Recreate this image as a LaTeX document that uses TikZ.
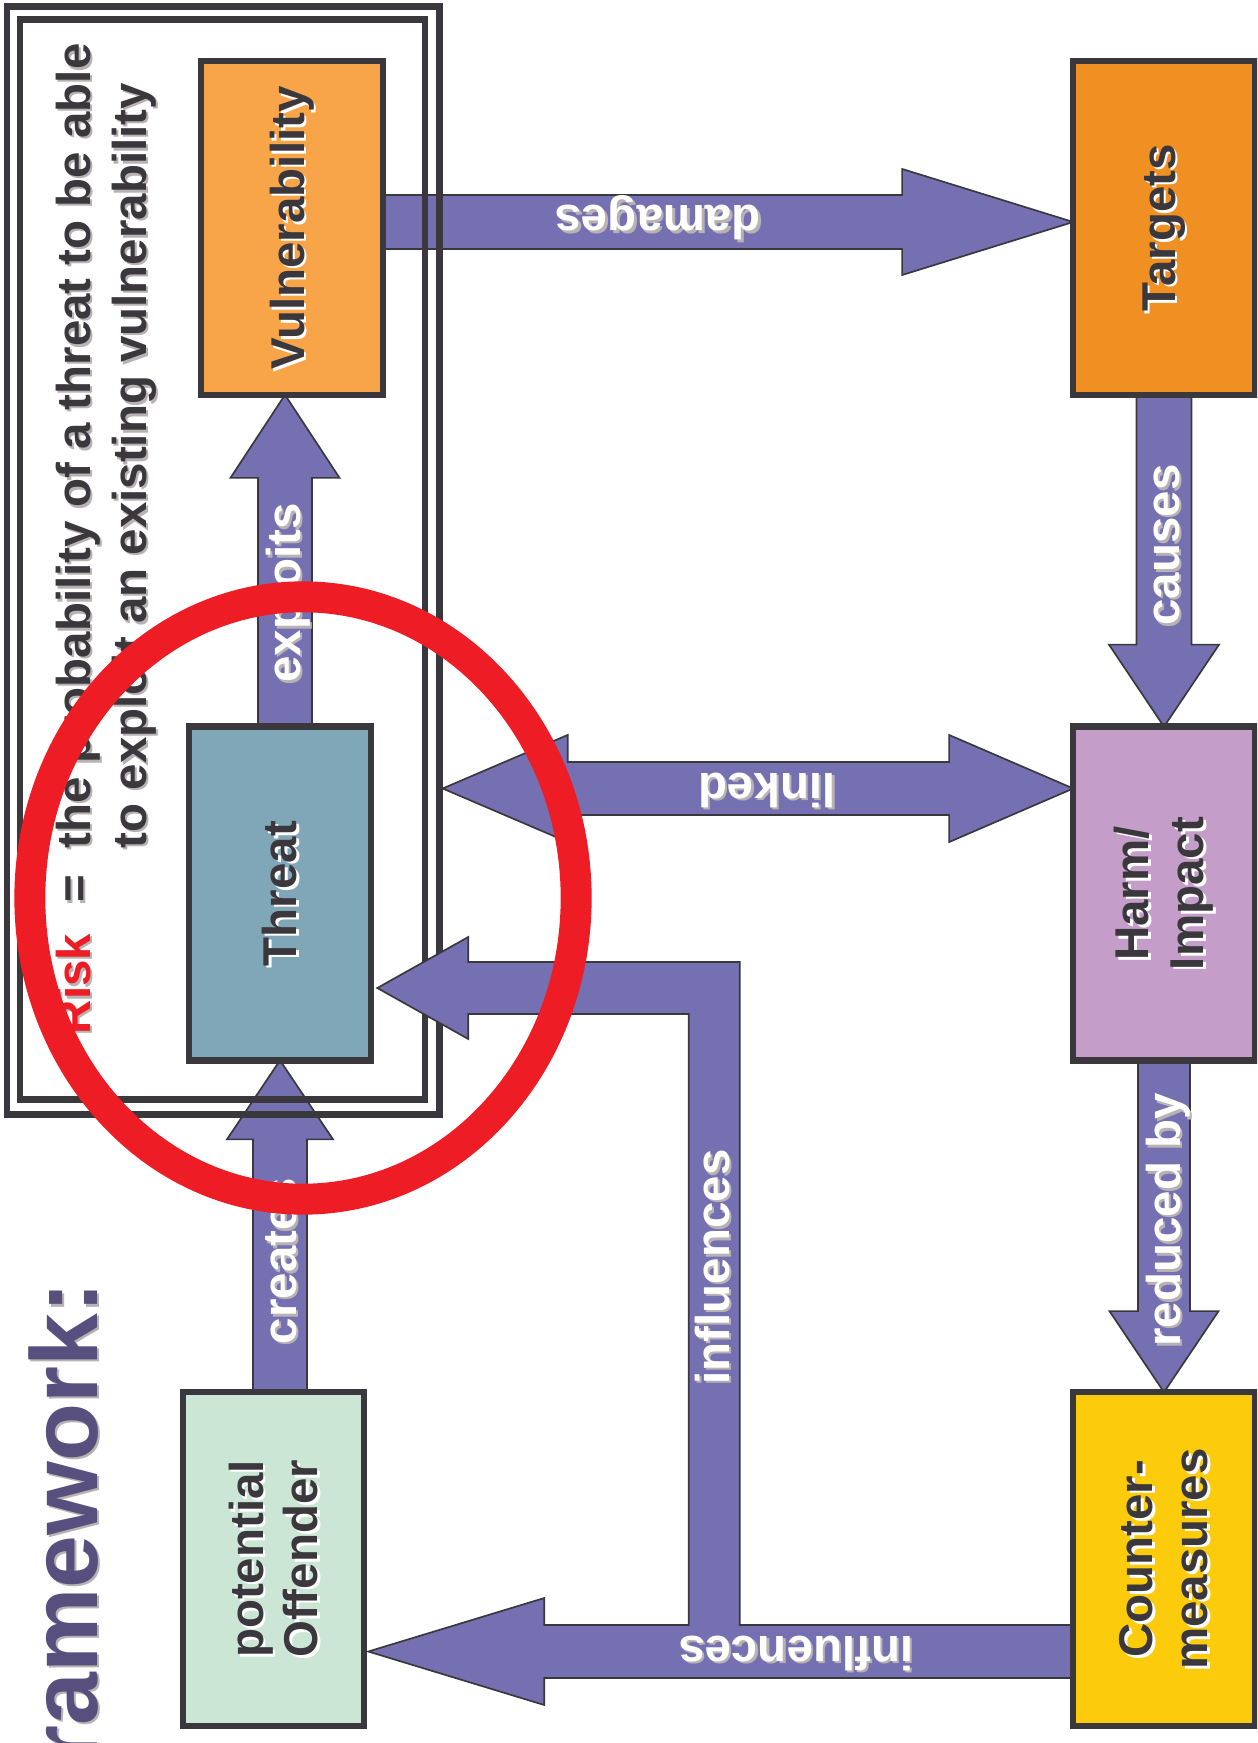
\documentclass[tikz,border=0pt]{standalone}
\usepackage{fontspec}
\setmainfont{Liberation Sans}
\usetikzlibrary{calc}
\definecolor{dk}{HTML}{3A383D}
\definecolor{arr}{HTML}{7470B2}
\definecolor{cvul}{HTML}{F8A54A}
\definecolor{cthr}{HTML}{7FA7B8}
\definecolor{coff}{HTML}{CCE6D6}
\definecolor{ctar}{HTML}{F08F22}
\definecolor{charm}{HTML}{C49EC8}
\definecolor{ccnt}{HTML}{FCCB0C}
\definecolor{cred}{HTML}{EE1D25}
\definecolor{ctitle}{HTML}{574F7D}
\definecolor{shd}{HTML}{B9B2B2}
\newcommand{\lblfont}{\fontsize{13.5}{15.6}\selectfont\bfseries}
\newcommand{\ttlfont}{\fontsize{27}{30}\selectfont\bfseries}
% block arrow: tail, tip, half shaft, half head, head length
\newcommand{\blockarrow}[5]{%
  \coordinate (bac) at ($(#2)!#5!(#1)$);
  \draw[barrow] ($(#1)!#3!90:(#2)$) -- ($(bac)!#3!90:(#2)$) -- ($(bac)!#4!90:(#2)$) -- (#2)
    -- ($(bac)!#4!-90:(#2)$) -- ($(bac)!#3!-90:(#2)$) -- ($(#1)!#3!-90:(#2)$) -- cycle;}
% text with drop shadow: name, position, options, colour, shadow colour, text
\newcommand{\stext}[6]{%
  \node[txt,#3,text=#5] at ([shift={(2.5,2.5)}]#2) {#6};
  \node[txt,#3,text=#4] (#1) at (#2) {#6};}
\begin{document}
\begin{tikzpicture}[x=0.01cm,y=-0.01cm,
  box/.style={draw=dk,line width=1.8pt,outer sep=0pt,inner sep=0pt,minimum width=1.815cm,minimum height=3.335cm},
  frm/.style={draw=dk,line width=1.9pt,outer sep=0pt,inner sep=0pt},
  barrow/.style={fill=arr,draw=dk,line width=0.48pt,line join=miter},
  txt/.style={inner sep=0pt,outer sep=0pt,font=\lblfont,align=center}]
\useasboundingbox (0,0) rectangle (1257,1743);
\clip (0,0) rectangle (1257,1743);
\fill[white] (0,0) rectangle (1257,1743);

% boxes (positions only, drawn later)
\path (292,228) node[box,draw=none] (V) {}
      (280,893.5) node[box,draw=none] (T) {}
      (273.5,1559) node[box,draw=none] (O) {}
      (1164,228) node[box,draw=none] (Tg) {}
      (1164,893.5) node[box,draw=none] (H) {}
      (1164,1559) node[box,draw=none] (C) {};

% arrows below the frame
\coordinate (c1) at (T.south |- O.north);
\blockarrow{c1}{T.south}{0.27cm}{0.53cm}{0.79cm}
\coordinate (d1) at ($(V.east)+(0,-6)$);
\coordinate (d2) at ($(Tg.west)+(0,-6)$);
\blockarrow{d1}{d2}{0.27cm}{0.53cm}{1.71cm}

% double frame
\node[frm,minimum width=4.325cm,minimum height=11.07cm] (frameO) at (223.25,560.5) {};
\node[frm,minimum width=4.05cm,minimum height=10.79cm] (frameI) at (222.5,559.5) {};

% other arrows
\coordinate (e1) at ($(T.north)+(5,0)$);
\coordinate (e2) at ($(V.south)+(-7,0)$);
\blockarrow{e1}{e2}{0.27cm}{0.545cm}{0.83cm}
\blockarrow{Tg.south}{H.north}{0.275cm}{0.55cm}{0.82cm}
\blockarrow{H.south}{C.north}{0.26cm}{0.545cm}{0.81cm}

% linked (double headed)
\coordinate (l2) at ($(H.west)+(0,-105)$);
\coordinate (l1) at ($(frameO.east |- l2)+(3,0)$);
\coordinate (la) at ($(l1)!1.25cm!(l2)$);
\coordinate (lb) at ($(l2)!1.24cm!(l1)$);
\draw[barrow] (l1) -- ($(la)!0.535cm!90:(l2)$) -- ($(la)!0.265cm!90:(l2)$) -- ($(lb)!0.265cm!-90:(l1)$)
  -- ($(lb)!0.535cm!-90:(l1)$) -- (l2) -- ($(lb)!0.535cm!90:(l1)$) -- ($(lb)!0.265cm!90:(l1)$)
  -- ($(la)!0.265cm!-90:(l2)$) -- ($(la)!0.535cm!-90:(l2)$) -- cycle;

% influences (elbow)
\coordinate (iR) at ($(C.west)+(0,92.5)$);
\coordinate (iL) at ($(O.east)+(4,92.5)$);
\coordinate (iT) at ($(T.east)+(6.5,94.5)$);
\coordinate (iJ) at ($(iR)+(-359,0)$);
\coordinate (iK) at (iJ |- iT);
\draw[barrow] ($(iR)+(0,-26.5)$) -- ($(iJ)+(25.5,-26.5)$) -- ($(iK)+(25.5,-26)$) -- ($(iT)+(91,-26)$)
  -- ($(iT)+(91,-51)$) -- (iT) -- ($(iT)+(91,51)$) -- ($(iT)+(91,26)$) -- ($(iK)+(-25.5,26)$)
  -- ($(iJ)+(-25.5,-26.5)$) -- ($(iL)+(176,-26.5)$) -- ($(iL)+(176,-53.5)$) -- (iL)
  -- ($(iL)+(176,53.5)$) -- ($(iL)+(176,26.5)$) -- ($(iR)+(0,26.5)$) -- cycle;

% boxes drawn
\node[box,fill=cvul] at (V) {};
\node[box,fill=cthr] at (T) {};
\node[box,fill=coff] at (O) {};
\node[box,fill=ctar] at (Tg) {};
\node[box,fill=charm] at (H) {};
\node[box,fill=ccnt] at (C) {};

% box labels
\stext{lVul}{V.center}{rotate=90}{dk}{white}{Vulnerability}
\stext{lThr}{T.center}{rotate=90}{dk}{white}{Threat}
\stext{lOff}{O.center}{rotate=90}{dk}{white}{potential\\Offender}
\stext{lTar}{Tg.center}{rotate=90}{dk}{white}{Targets}
\stext{lHar}{H.center}{rotate=90}{dk}{white}{Harm/\\Impact}
\stext{lCnt}{C.center}{rotate=90}{dk}{white}{Counter-\\measures}

% arrow labels
\stext{lDam}{658,206}{rotate=180,anchor=base}{white}{shd}{damages}
\stext{lLin}{767,773}{rotate=180,anchor=base}{white}{shd}{linked}
\stext{lInh}{796,1636}{rotate=180,anchor=base}{white}{shd}{influences}
\stext{lExp}{300,593}{rotate=90,anchor=base}{white}{shd}{exploits}
\stext{lCre}{296,1261}{rotate=90,anchor=base}{white}{shd}{creates}
\stext{lCau}{1179,545}{rotate=90,anchor=base}{white}{shd}{causes}
\stext{lRed}{1180,1220}{rotate=90,anchor=base}{white}{shd}{reduced by}
\stext{lInv}{729,1267}{rotate=90,anchor=base}{white}{shd}{influences}

% definition text
\stext{lRisk}{90,1034}{rotate=90,anchor=base west}{cred}{shd}{Risk}
\stext{lEq}{90,889}{rotate=90,anchor=base}{dk}{shd}{=}
\stext{lDef1}{90,848}{rotate=90,anchor=base west}{dk}{shd}{the probability of a threat to be able}
\stext{lDef2}{146,848}{rotate=90,anchor=base west}{dk}{shd}{to exploit an existing vulnerability}

% title
\stext{lTitle}{97,1282}{rotate=90,anchor=base east,font=\ttlfont}{ctitle}{shd}{Framework:}

% red ellipse
\draw[cred,line width=8.8pt] (303,898) ellipse [x radius=2.73cm,y radius=3.01cm];
\end{tikzpicture}
\end{document}
